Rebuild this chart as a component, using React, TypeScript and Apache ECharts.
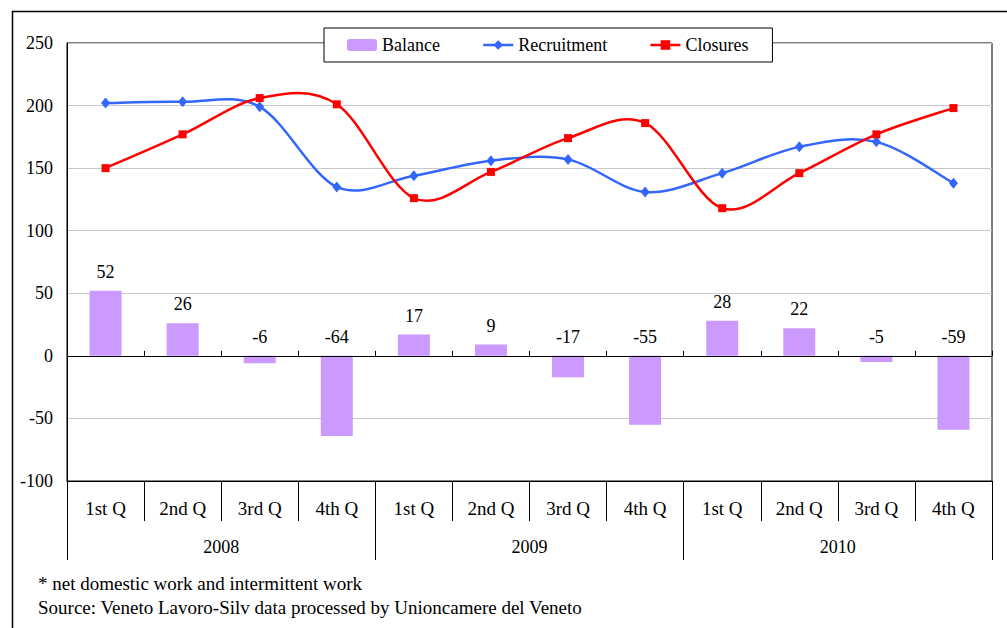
import React, { useEffect, useRef } from 'react';
import * as echarts from 'echarts';

const years = ['2008', '2009', '2010'];
const quarters = [
  '1st Q', '2nd Q', '3rd Q', '4th Q',
  '1st Q', '2nd Q', '3rd Q', '4th Q',
  '1st Q', '2nd Q', '3rd Q', '4th Q',
];
const balance = [52, 26, -6, -64, 17, 9, -17, -55, 28, 22, -5, -59];
const recruitment = [202, 203, 199, 135, 144, 156, 157, 131, 146, 167, 171, 138];
const closures = [150, 177, 206, 201, 126, 147, 174, 186, 118, 146, 177, 198];
const yMin = -100;
const yMax = 250;
const yStep = 50;
const notes = [
  '* net domestic work and intermittent work',
  'Source: Veneto Lavoro-Silv data processed by Unioncamere del Veneto',
];

const FONT = '"Liberation Serif", "Times New Roman", serif';
const BLUE = '#3366FF';
const RED = '#FF0000';

// Excel-like smoothed curve (cardinal spline, no overshoot constraint)
function smoothPath(pts: number[][]): string {
  const n = pts.length;
  let d = `M${pts[0][0]},${pts[0][1]}`;
  for (let i = 0; i < n - 1; i++) {
    const p0 = pts[Math.max(i - 1, 0)];
    const p1 = pts[i];
    const p2 = pts[i + 1];
    const p3 = pts[Math.min(i + 2, n - 1)];
    const c1x = p1[0] + (p2[0] - p0[0]) / 6;
    const c1y = p1[1] + (p2[1] - p0[1]) / 6;
    const c2x = p2[0] - (p3[0] - p1[0]) / 6;
    const c2y = p2[1] - (p3[1] - p1[1]) / 6;
    d += ` C${c1x},${c1y} ${c2x},${c2y} ${p2[0]},${p2[1]}`;
  }
  return d;
}

function curveSeries(values: number[], color: string) {
  return {
    type: 'custom',
    xAxisIndex: 0,
    yAxisIndex: 0,
    z: 3,
    silent: true,
    data: values.map((v, i) => [i, v]),
    encode: { x: 0, y: 1 },
    renderItem: (params: any, api: any) => {
      if (params.dataIndex !== 0) return { type: 'group', children: [] };
      const pts = values.map((v, i) => api.coord([i, v]));
      return {
        type: 'path',
        shape: { pathData: smoothPath(pts) },
        style: { fill: 'none', stroke: color, lineWidth: 2.5 },
      };
    },
  };
}

export default function App() {
  const ref = useRef<HTMLDivElement>(null);

  useEffect(() => {
    if (!ref.current) return;
    const chart = echarts.init(ref.current, undefined, { renderer: 'svg' });
    chart.setOption({
      animation: false,
      backgroundColor: '#fff',
      textStyle: { fontFamily: FONT, color: '#000' },
      grid: {
        left: 67,
        right: 15,
        top: 43,
        bottom: 147,
        show: true,
        borderColor: '#000',
        borderWidth: 1,
      },
      legend: {
        left: 324,
        top: 28,
        padding: [8, 24, 8, 23],
        itemGap: 42,
        itemWidth: 30,
        itemHeight: 12,
        backgroundColor: '#fff',
        borderColor: '#000',
        borderWidth: 1,
        borderRadius: 0,
        lineStyle: { opacity: 1, width: 2.5 },
        textStyle: { fontFamily: FONT, fontSize: 18, color: '#000' },
        data: ['Balance', 'Recruitment', 'Closures'],
      },
      xAxis: [
        {
          type: 'category',
          data: quarters,
          position: 'bottom',
          z: 5,
          axisLine: { onZero: true, lineStyle: { color: '#000', width: 1 } },
          axisTick: { show: true, inside: true, length: 5, interval: 0, lineStyle: { color: '#000' } },
          axisLabel: { show: false },
          splitLine: { show: false },
        },
        {
          type: 'category',
          data: quarters,
          position: 'bottom',
          axisLine: { show: true, onZero: false, lineStyle: { color: '#000', width: 1 } },
          axisTick: { show: true, length: 40, interval: 0, lineStyle: { color: '#000' } },
          axisLabel: { interval: 0, margin: 18, fontSize: 19, color: '#000', fontFamily: FONT },
          splitLine: { show: false },
        },
        {
          type: 'category',
          data: years,
          position: 'bottom',
          offset: 40,
          axisLine: { show: false, onZero: false },
          axisTick: { show: true, length: 39, interval: 0, lineStyle: { color: '#000' } },
          axisLabel: { interval: 0, margin: 17, fontSize: 18, color: '#000', fontFamily: FONT },
          splitLine: { show: false },
        },
      ],
      yAxis: {
        type: 'value',
        min: yMin,
        max: yMax,
        interval: yStep,
        axisLine: { show: true, lineStyle: { color: '#000', width: 1 } },
        axisTick: { show: false },
        axisLabel: { fontSize: 18, color: '#000', margin: 14, fontFamily: FONT },
        splitLine: { lineStyle: { color: '#c8c8c8', width: 1.2 } },
      },
      series: [
        {
          name: 'Balance',
          type: 'bar',
          xAxisIndex: 0,
          data: balance,
          barWidth: 32,
          z: 2,
          itemStyle: { color: '#CC99FF' },
          label: {
            show: true,
            position: 'top',
            distance: 10,
            fontSize: 18,
            color: '#000',
            fontFamily: FONT,
          },
        },
        curveSeries(recruitment, BLUE),
        curveSeries(closures, RED),
        {
          name: 'Recruitment',
          type: 'line',
          xAxisIndex: 0,
          data: recruitment,
          z: 4,
          symbol: 'diamond',
          symbolSize: [9, 11],
          itemStyle: { color: BLUE },
          lineStyle: { color: BLUE, width: 2.5, opacity: 0 },
        },
        {
          name: 'Closures',
          type: 'line',
          xAxisIndex: 0,
          data: closures,
          z: 4,
          symbol: 'rect',
          symbolSize: 8,
          itemStyle: { color: RED },
          lineStyle: { color: RED, width: 2.5, opacity: 0 },
        },
      ],
      graphic: [
        {
          type: 'rect',
          silent: true,
          z: 10,
          shape: { x: 12.5, y: 11.5, width: 1100, height: 700 },
          style: { fill: 'none', stroke: '#000', lineWidth: 1.5 },
        },
        {
          type: 'text',
          left: 38,
          top: 574,
          style: { text: notes[0], fontSize: 19, fontFamily: FONT, fill: '#000' },
        },
        {
          type: 'text',
          left: 38,
          top: 598,
          style: { text: notes[1], fontSize: 19, fontFamily: FONT, fill: '#000' },
        },
      ],
    });
    return () => chart.dispose();
  }, []);

  return (
    <div
      ref={ref}
      style={{ position: 'fixed', left: 0, top: 0, width: 1007, height: 628 }}
    />
  );
}
